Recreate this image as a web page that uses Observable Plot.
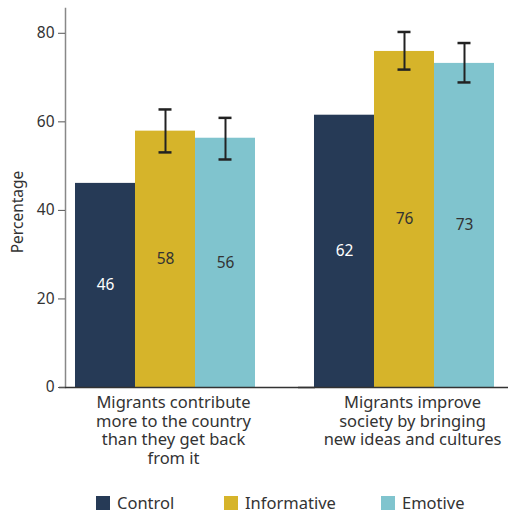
<!DOCTYPE html>
<html>
<head>
<meta charset="utf-8">
<script src="https://cdn.jsdelivr.net/npm/d3@7"></script>
<script src="https://cdn.jsdelivr.net/npm/@observablehq/plot@0.6"></script>
<style>
  body { margin: 0; background: #fff; }
  #wrap { position: relative; width: 508px; height: 516px; font-family: "Noto Sans", sans-serif; color: #333; }
  .lg { position: absolute; display: flex; align-items: center; font-size: 16.5px; line-height: 18px; height: 18px; white-space: nowrap; }
  .lg span.sw { width: 14px; height: 14px; display: inline-block; margin-right: 7px; flex: none; }
</style>
</head>
<body>
<div id="wrap"></div>
<script>
const categories = [
  "Migrants contribute more to the country than they get back from it",
  "Migrants improve society by bringing new ideas and cultures"
];
const categoryLabels = [
  "Migrants contribute\nmore to the country\nthan they get back\nfrom it",
  "Migrants improve\nsociety by bringing\nnew ideas and cultures"
];
const conditions = ["Control", "Informative", "Emotive"];
const colors = ["#263a56", "#d6b42a", "#80c4ce"];

const control = [46.1, 61.5];
const informative = [57.9, 75.9];
const emotive = [56.3, 73.2];

const informativeLow = [53.1, 71.8];
const informativeHigh = [62.8, 80.3];
const emotiveLow = [51.5, 68.9];
const emotiveHigh = [60.9, 77.8];

const yTicks = [0, 20, 40, 60, 80];

const series = { Control: control, Informative: informative, Emotive: emotive };
const rows = [];
categories.forEach((c, i) => {
  conditions.forEach(k => rows.push({ category: c, condition: k, value: series[k][i] }));
});
const errRows = [];
categories.forEach((c, i) => {
  errRows.push({ category: c, condition: "Informative", lo: informativeLow[i], hi: informativeHigh[i] });
  errRows.push({ category: c, condition: "Emotive", lo: emotiveLow[i], hi: emotiveHigh[i] });
});

const chart = Plot.plot({
  width: 508,
  height: 480,
  marginLeft: 65,
  marginRight: 14,
  marginTop: 8,
  marginBottom: 93,
  style: { fontFamily: "'Noto Sans', sans-serif", fontSize: "15px", color: "#333", background: "#fff" },
  fx: { domain: categories, paddingInner: 0.205, paddingOuter: 0, round: false, label: null },
  x: { domain: conditions, paddingInner: 0, paddingOuter: 0.0833, align: 1, round: false, axis: null },
  y: { domain: [0, 85.6], label: null },
  color: { domain: conditions, range: colors },
  marks: [
    Plot.barY(rows, { fx: "category", x: "condition", y: "value", fill: "condition" }),
    Plot.frame({ anchor: "left", facetAnchor: "left", stroke: "#888", strokeWidth: 1.5 }),
    Plot.ruleY([0], { stroke: "#333", strokeWidth: 1.5, insetLeft: -6, insetRight: -60 }),
    Plot.axisY({ ticks: yTicks, tickSize: 7, tickPadding: 4, label: null, stroke: "#555", fill: "#333", fontSize: 15.5 }),
    Plot.axisFx({ anchor: "bottom", tickSize: 0, tickPadding: 7, label: null, fontSize: 16.5, lineHeight: 1.135, dx: 13,
      fill: "#333", tickFormat: d => categoryLabels[categories.indexOf(d)] }),
    Plot.text(["Percentage"], { frameAnchor: "left", facetAnchor: "left", rotate: -90, textAnchor: "middle",
      dx: -47, dy: 14, fontSize: 15.5, fill: "#333" }),
    Plot.text(rows.filter(d => d.condition === "Control"), { fx: "category", x: "condition", y: d => d.value / 2,
      text: d => String(Math.round(d.value)), fill: "white", fontSize: 15.5 }),
    Plot.text(rows.filter(d => d.condition !== "Control"), { fx: "category", x: "condition", y: d => d.value / 2,
      text: d => String(Math.round(d.value)), fill: "#333", fontSize: 15.5 }),
    Plot.ruleX(errRows, { fx: "category", x: "condition", y1: "lo", y2: "hi", stroke: "#222", strokeWidth: 2 }),
    Plot.tickY(errRows, { fx: "category", x: "condition", y: "lo", stroke: "#222", strokeWidth: 2.5, insetLeft: 23.5, insetRight: 23.5 }),
    Plot.tickY(errRows, { fx: "category", x: "condition", y: "hi", stroke: "#222", strokeWidth: 2.5, insetLeft: 23.5, insetRight: 23.5 })
  ]
});

const wrap = document.getElementById("wrap");
wrap.appendChild(chart);

const legendPos = [[96, 494], [224, 494], [381, 494]];
conditions.forEach((k, i) => {
  const item = document.createElement("div");
  item.className = "lg";
  item.style.left = legendPos[i][0] + "px";
  item.style.top = legendPos[i][1] + "px";
  const sw = document.createElement("span");
  sw.className = "sw";
  sw.style.background = colors[i];
  item.appendChild(sw);
  item.appendChild(document.createTextNode(k));
  wrap.appendChild(item);
});
</script>
</body>
</html>
